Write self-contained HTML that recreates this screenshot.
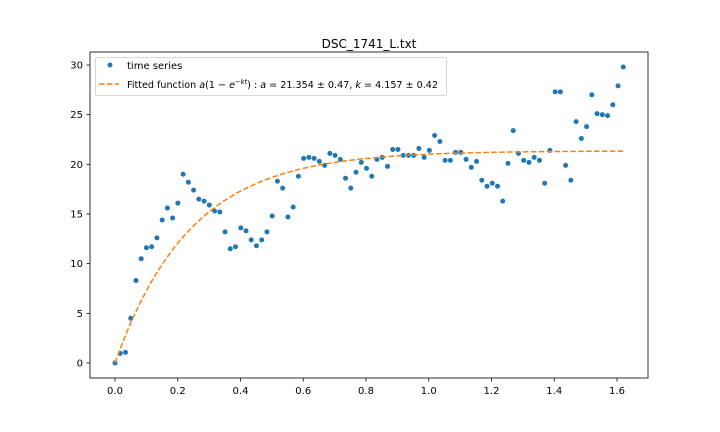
<!DOCTYPE html>
<html><head><meta charset="utf-8"><style>
body{margin:0;background:#fff;}
svg{display:block;font-family:"DejaVu Sans","Liberation Sans",sans-serif;}
</style></head><body>
<svg id="chart" width="720" height="432" viewBox="0 0 720 432">
<rect width="720" height="432" fill="#fff"/>
<text x="369" y="48" font-size="12" text-anchor="middle" fill="#000">DSC_1741_L.txt</text>
<g id="grid"></g>
<g id="marks"></g>
<rect x="90" y="52" width="558" height="326" fill="none" stroke="#000" stroke-width="0.8"/>
<g>
<rect x="95.5" y="57.5" width="351" height="38" rx="2" fill="#fff" fill-opacity="0.8" stroke="#ccc" stroke-width="0.8"/>
<circle cx="110" cy="65" r="2.5" fill="#1f77b4"/>
<text x="127" y="69" font-size="10">time series</text>
<line x1="99" y1="84" x2="119" y2="84" stroke="#ff7f0e" stroke-width="1.5" stroke-dasharray="5.5,2.4"/>
<text x="127" y="88" font-size="10" textLength="311" lengthAdjust="spacingAndGlyphs">Fitted function <tspan font-style="italic">a</tspan>(1 − <tspan font-style="italic">e</tspan><tspan font-size="7" dy="-4">−<tspan font-style="italic">kt</tspan></tspan><tspan dy="4">) : </tspan><tspan font-style="italic">a</tspan> = 21.354 ± 0.47, <tspan font-style="italic">k</tspan> = 4.157 ± 0.42</text>
</g>
</svg>
<script>
const yValues=[0,0.97,1.07,4.5,8.3,10.5,11.6,11.7,12.6,14.4,15.6,14.6,16.1,19.0,18.2,17.4,16.5,16.3,15.9,15.3,15.2,13.2,11.5,11.7,13.6,13.3,12.4,11.8,12.4,13.2,14.8,18.3,17.6,14.7,
15.7,18.8,20.6,20.7,20.6,20.3,19.9,21.1,20.9,20.5,18.6,17.6,19.2,20.2,19.6,18.8,20.5,20.7,19.8,21.5,21.5,20.9,20.9,20.9,21.6,20.7,21.4,22.9,22.3,20.4,20.4,21.2,21.2,
20.5,19.7,20.3,18.4,17.8,18.1,17.8,16.3,20.1,23.4,21.1,20.4,20.2,20.7,20.4,18.1,21.4,27.3,27.3,19.9,18.4,24.3,22.6,23.8,27.0,25.1,25.0,24.9,26.0,27.9,29.8];
const xMax=1.62;
const fitA=21.354;
const fitK=4.157;
const xTicks=[0,0.2,0.4,0.6,0.8,1.0,1.2,1.4,1.6];
const yTicks=[0,5,10,15,20,25,30];

const NS="http://www.w3.org/2000/svg";
const sx=v=>115+v*313.75;
const sy=v=>363-v*9.933;
const grid=document.getElementById('grid');
const marks=document.getElementById('marks');
function mk(tag,attrs,parent){const e=document.createElementNS(NS,tag);for(const k in attrs)e.setAttribute(k,attrs[k]);parent.appendChild(e);return e;}
xTicks.forEach(t=>{
  const g=mk('g',{},grid);
  
  
  mk('line',{x1:sx(t),x2:sx(t),y1:378,y2:381.5,stroke:'#000','stroke-width':0.8},g);
  const tx=mk('text',{x:sx(t),y:394,'font-size':10,'text-anchor':'middle'},g);
  tx.textContent=t.toFixed(1);
});
yTicks.forEach(t=>{
  const g=mk('g',{},grid);
  
  
  mk('line',{x1:86.5,x2:90,y1:sy(t),y2:sy(t),stroke:'#000','stroke-width':0.8},g);
  const tx=mk('text',{x:83,y:sy(t)+3.5,'font-size':10,'text-anchor':'end'},g);
  tx.textContent=String(t);
});
const n=yValues.length;
yValues.forEach((v,i)=>{
  const x=i*xMax/(n-1);
  const c=mk('circle',{cx:sx(x),cy:sy(v),r:2.5,fill:'#1f77b4'},marks);
  
  
});
let d='';
for(let i=0;i<=200;i++){const x=i*xMax/200;const y=fitA*(1-Math.exp(-fitK*x));d+=(i?'L':'M')+sx(x).toFixed(2)+','+sy(y).toFixed(2);}
const p=mk('path',{d:d,fill:'none',stroke:'#ff7f0e','stroke-width':1.5,'stroke-dasharray':'5.5,2.4'},marks);


</script>
</body></html>
